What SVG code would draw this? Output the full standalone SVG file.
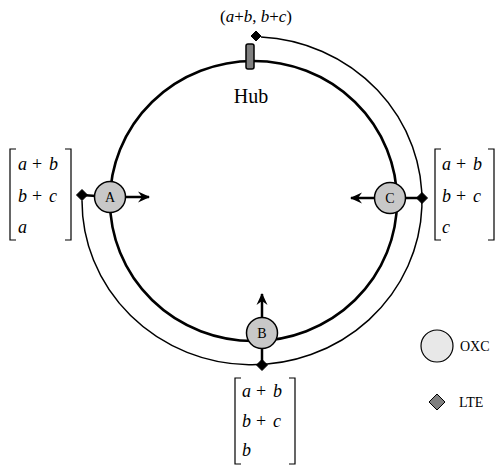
<svg xmlns="http://www.w3.org/2000/svg" width="496" height="466" viewBox="0 0 496 466">
<style>
.ring{fill:none;stroke:#000;stroke-width:2.6}
.outer{fill:none;stroke:#000;stroke-width:1.5}
.conn{stroke:#000;stroke-width:2.5;fill:none}
.oxc{fill:#c8c8c8;stroke:#000;stroke-width:1.5}
.lte{fill:#000;stroke:#000;stroke-width:1}
.lbl{font-family:"Liberation Serif",serif;font-size:14px;text-anchor:middle}
.m{font-family:"Liberation Serif",serif;font-size:18px}
.i{font-style:italic}
.br{fill:none;stroke:#000;stroke-width:1.2}
.leg{font-family:"Liberation Serif",serif;font-size:14px}
</style>
<defs>
<marker id="arr" markerWidth="14" markerHeight="14" refX="11" refY="7" orient="auto" markerUnits="userSpaceOnUse">
<path d="M0,1.5 L12,7 L0,12.5 L4,7 z" fill="#000"/>
</marker>
</defs>
<rect width="496" height="466" fill="#fff"/>
<g id="connectors">
<ellipse class="ring" cx="253.5" cy="201" rx="143.5" ry="140"/>
<path class="outer" d="M261 37 A170 164 0 1 1 82 200.5"/>
<line class="conn" x1="82" y1="195" x2="110" y2="197"/>
<line class="conn" x1="126" y1="197" x2="149" y2="197" marker-end="url(#arr)"/>
<line class="conn" x1="422" y1="198" x2="390" y2="198"/>
<line class="conn" x1="374" y1="198" x2="351" y2="198" marker-end="url(#arr)"/>
<line class="conn" x1="262" y1="365" x2="262" y2="333"/>
<line class="conn" x1="262" y1="318" x2="262" y2="294" marker-end="url(#arr)"/>
</g>
<g id="hub">
<rect x="246" y="44" width="8" height="25" rx="2" fill="#808080" stroke="#000" stroke-width="1.5"/>
<text x="251" y="103" font-family="Liberation Serif,serif" font-size="20" text-anchor="middle">Hub</text>
</g>
<g id="top-lte">
<path class="lte" d="M256 31 L261 36 L256 41 L251 36 z"/>
<text x="256" y="22" font-family="Liberation Serif,serif" font-size="17" text-anchor="middle">(<tspan class="i">a</tspan>+<tspan class="i">b</tspan>, <tspan class="i">b</tspan>+<tspan class="i">c</tspan>)</text>
</g>
<g id="node-A">
<path class="lte" d="M82 189.5 L87.5 195 L82 200.5 L76.5 195 z"/>
<circle class="oxc" cx="110" cy="197" r="15.5"/>
<text class="lbl" x="110" y="202">A</text>
</g>
<g id="node-C">
<path class="lte" d="M422 192.5 L427.5 198 L422 203.5 L416.5 198 z"/>
<circle class="oxc" cx="390" cy="198" r="15.5"/>
<text class="lbl" x="390" y="203">C</text>
</g>
<g id="node-B">
<path class="lte" d="M262 359.5 L267.5 365 L262 370.5 L256.5 365 z"/>
<circle class="oxc" cx="262" cy="333" r="15.5"/>
<text class="lbl" x="262" y="338">B</text>
</g>
<g id="matrix-A">
<path class="br" d="M16 149 H10 V240 H16 M65 149 H71 V240 H65"/>
<text class="m"><tspan class="i" x="18" y="170">a</tspan><tspan x="32" y="170">+</tspan><tspan class="i" x="49" y="170">b</tspan></text>
<text class="m"><tspan class="i" x="18" y="202">b</tspan><tspan x="32" y="202">+</tspan><tspan class="i" x="49" y="202">c</tspan></text>
<text class="m"><tspan class="i" x="18" y="233">a</tspan></text>
</g>
<g id="matrix-C">
<path class="br" d="M441 149 H435 V240 H441 M488 149 H494 V240 H488"/>
<text class="m"><tspan class="i" x="442" y="170">a</tspan><tspan x="456" y="170">+</tspan><tspan class="i" x="473" y="170">b</tspan></text>
<text class="m"><tspan class="i" x="442" y="202">b</tspan><tspan x="456" y="202">+</tspan><tspan class="i" x="473" y="202">c</tspan></text>
<text class="m"><tspan class="i" x="442" y="233">c</tspan></text>
</g>
<g id="matrix-B">
<path class="br" d="M241 378 H235 V464 H241 M289 378 H295 V464 H289"/>
<text class="m"><tspan class="i" x="242" y="397">a</tspan><tspan x="256" y="397">+</tspan><tspan class="i" x="273" y="397">b</tspan></text>
<text class="m"><tspan class="i" x="242" y="427">b</tspan><tspan x="256" y="427">+</tspan><tspan class="i" x="273" y="427">c</tspan></text>
<text class="m"><tspan class="i" x="242" y="456">b</tspan></text>
</g>
<g id="legend">
<circle cx="437" cy="346" r="16" fill="#e8e8e8" stroke="#000" stroke-width="1.2"/>
<text class="leg" x="460" y="351">OXC</text>
<path d="M437 394 L445 402 L437 410 L429 402 z" fill="#808080" stroke="#000" stroke-width="1"/>
<text class="leg" x="459" y="407">LTE</text>
</g>
</svg>
